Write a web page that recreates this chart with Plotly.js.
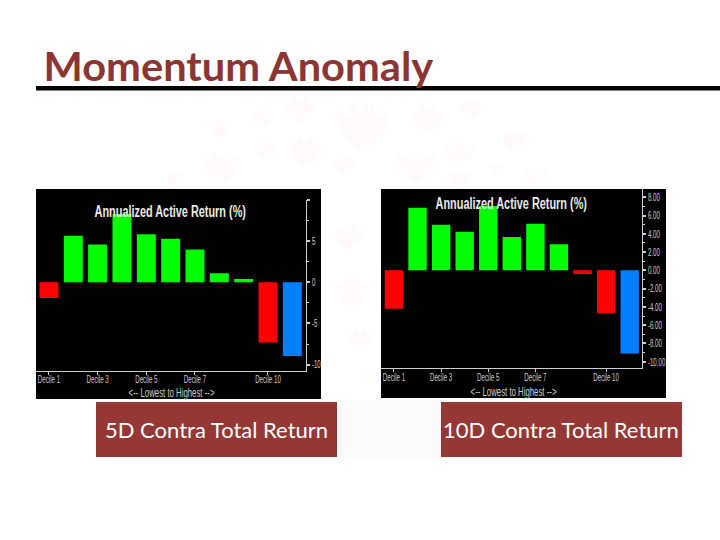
<!DOCTYPE html>
<html><head><meta charset="utf-8">
<script src="https://cdn.plot.ly/plotly-3.0.1.min.js"></script>
<style>html,body{margin:0;padding:0;background:#fff}#c{width:720px;height:540px}</style>
</head><body><div id="c"></div>
<script>
const categories = ["Decile 1","Decile 2","Decile 3","Decile 4","Decile 5","Decile 6","Decile 7","Decile 8","Decile 9","Decile 10","Decile 11"];
const shownTicks = ["Decile 1","Decile 3","Decile 5","Decile 7","Decile 10"];
const values5D = [-1.9,5.65,4.6,8.3,5.85,5.3,4.0,1.1,0.4,-7.3,-8.95];
const values10D = [-4.2,6.85,5.0,4.23,7.05,3.65,5.1,2.85,-0.4,-4.7,-9.1];
const yTicks5D = [-10,-5,0,5,10];
const yTickText5D = ["-10","-5","0","5",""];
const yTicks10D = [-10,-8,-6,-4,-2,0,2,4,6,8];
const yTickText10D = ["-10.00","-8.00","-6.00","-4.00","-2.00","0.00","2.00","4.00","6.00","8.00"];
const titleText = "Momentum Anomaly";
const panelTitle = "Annualized Active Return (%)";
const xAxisTitle = "&lt;-- Lowest to Highest --&gt;";
const xAxisTitlePlain = "<-- Lowest to Highest -->";
const caption5D = "5D Contra Total Return";
const caption10D = "10D Contra Total Return";
const watermarkLeaves = [[220,127,12],[262,118,11],[300,110,16],[362,125,28],[428,118,17],[470,108,13],[515,140,13],[460,152,16],[265,150,11],[305,150,17],[222,165,20],[345,165,13],[416,165,20],[498,168,9],[460,178,12],[535,175,12],[175,178,10],[350,235,16],[352,290,18],[360,340,14]];

const W=720,H=540, NARROW='"Liberation Sans",sans-serif';
const px=v=>v/W, py=v=>1-v/H;
const GREEN='#00ff00',RED='#ff0000',BLUE='#0080ff',MAROON='#953735',AX='#cfcfcf';
const colours=vals=>vals.map((v,i)=>i===vals.length-1?BLUE:(v<0?RED:GREEN));
const bar=(vals,x,y)=>({type:'bar',x:categories,y:vals,xaxis:x,yaxis:y,width:0.78,
  marker:{color:colours(vals),line:{width:0}},hoverinfo:'x+y',showlegend:false});
const xa=(d,r,y)=>({domain:d,range:r,anchor:y,type:'category',categoryorder:'array',categoryarray:categories,
  tickmode:'array',tickvals:shownTicks,ticktext:shownTicks,ticks:'outside',ticklen:3,tickcolor:AX,ticklabelstandoff:-5,
  tickfont:{family:NARROW,size:11,color:AX},showgrid:false,zeroline:false,showline:true,linecolor:AX,linewidth:1,
  automargin:false,tickangle:0});
const ya=(d,r,x,vals,text,minorStep)=>({domain:d,range:r,anchor:x,side:'right',tickmode:'array',tickvals:vals,ticktext:text,
  ticks:'outside',ticklen:3,tickwidth:2,tickcolor:AX,tickfont:{family:NARROW,size:11,color:AX},
  minor:{ticks:'outside',ticklen:2,tickwidth:1,tickcolor:AX,dtick:minorStep,tick0:0},
  showgrid:false,zeroline:false,showline:true,linecolor:AX,linewidth:1,automargin:false});
const rect=(x0,y0,x1,y1,c)=>({type:'rect',xref:'paper',yref:'paper',x0:px(x0),x1:px(x1),y0:py(y1),y1:py(y0),fillcolor:c,line:{width:0},layer:'below'});
const leaf=([cx,cy,s])=>{
  const outline=[[0,1],[-.75,.35],[-1,-.6],[-.5,-.3],[-.35,-.85],[0,-.4],[.35,-.85],[.5,-.3],[1,-.6],[.75,.35]];
  const d=outline.map(([a,b],i)=>(i?'L':'M')+px(cx+a*s).toFixed(5)+','+py(cy+b*s).toFixed(5)).join(' ')+' Z';
  return {type:'path',xref:'paper',yref:'paper',path:d,fillcolor:'#fefbfa',line:{width:0},layer:'below'};
};
const note=(text,x,y,font)=>({xref:'paper',yref:'paper',x:px(x),y:py(y),text,showarrow:false,font,xanchor:'center',yanchor:'middle'});

const layout={width:W,height:H,margin:{l:0,r:0,t:0,b:0},paper_bgcolor:'#fff',plot_bgcolor:'rgba(0,0,0,0)',
  xaxis:xa([px(36),px(305.7)],[-0.534,10.55],'y'),
  yaxis:ya([py(370.7),py(200)],[-10.74,10],'x',yTicks5D,yTickText5D,2.5),
  xaxis2:xa([px(381),px(641.7)],[-0.55,10.51],'y2'),
  yaxis2:ya([py(368.3),py(189)],[-10.72,8.9],'x2',yTicks10D,yTickText10D,1),
  shapes:[
    ...watermarkLeaves.map(leaf),
    rect(337,400,441,458,'#fefcfb'),
    rect(36,189,321,399,'#000'),rect(381,189,666,398,'#000'),
    rect(96,402,337,457,MAROON),rect(441,402,682,457,MAROON),
    rect(36,86,720,90.5,'#000')
  ],
  annotations:[
    note(titleText,238.5,66.5,{family:'Lato',size:40,color:'#8c3533',weight:700}),
    note(panelTitle,170.5,211,{family:NARROW,size:16,color:'#ececec',weight:700}),
    note(panelTitle,511.5,203,{family:NARROW,size:16,color:'#ececec',weight:700}),
    note(xAxisTitle,171,392.5,{family:NARROW,size:13,color:AX}),
    note(xAxisTitle,513,391.5,{family:NARROW,size:13,color:AX}),
    note(caption5D,216.5,429.5,{family:'Lato',size:22,color:'#fff'}),
    note(caption10D,560.5,429.5,{family:'Lato',size:22,color:'#fff'})
  ]};
Plotly.newPlot('c',[bar(values5D,'x','y'),bar(values10D,'x2','y2')],layout,{displayModeBar:false,staticPlot:true}).then(gd=>{
  // The reference uses a condensed face: squeeze the real text elements horizontally.
  const squeeze=(el,f)=>{el.setAttribute('textLength',el.getComputedTextLength()*f);el.setAttribute('lengthAdjust','spacingAndGlyphs');};
  gd.querySelectorAll('.xtick text,.x2tick text,.ytick text,.y2tick text').forEach(el=>squeeze(el,0.56));
  gd.querySelectorAll('.annotation-text').forEach(el=>{
    if(el.textContent===panelTitle)squeeze(el,0.68);
    else if(el.textContent===xAxisTitlePlain)squeeze(el,0.6);
    else if(el.textContent===titleText)squeeze(el,1.04);
  });
});
</script></body></html>
